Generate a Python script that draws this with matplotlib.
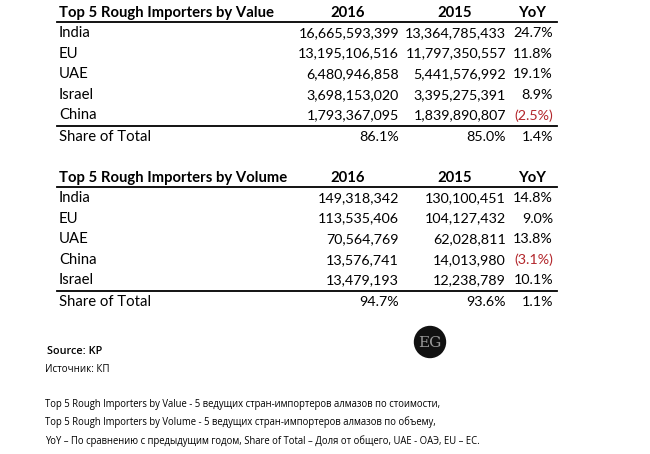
import matplotlib
matplotlib.use("Agg")
import matplotlib.pyplot as plt
from matplotlib.patches import Circle

# ---- data ----
value_title = "Top 5 Rough Importers by Value"
value_countries = ["India", "EU", "UAE", "Israel", "China"]
value_2016 = [16665593399, 13195106516, 6480946858, 3698153020, 1793367095]
value_2015 = [13364785433, 11797350557, 5441576992, 3395275391, 1839890807]
value_yoy = [24.7, 11.8, 19.1, 8.9, -2.5]
value_share = [86.1, 85.0, 1.4]

volume_title = "Top 5 Rough Importers by Volume"
volume_countries = ["India", "EU", "UAE", "China", "Israel"]
volume_2016 = [149318342, 113535406, 70564769, 13576741, 13479193]
volume_2015 = [130100451, 104127432, 62028811, 14013980, 12238789]
volume_yoy = [14.8, 9.0, 13.8, -3.1, 10.1]
volume_share = [94.7, 93.6, 1.1]

col_headers = ["2016", "2015", "YoY"]
share_label = "Share of Total"
source_lines = ["Source: KP", "Источник: КП"]
notes = [
    "Top 5 Rough Importers by Value - 5 ведущих стран-импортеров алмазов по стоимости,",
    "Top 5 Rough Importers by Volume - 5 ведущих стран-импортеров алмазов по объему,",
    "YoY \u2013 По сравнению с предыдущим годом, Share of Total \u2013 Доля от общего, UAE - ОАЭ, EU \u2013 ЕС.",
]
logo_text = "EG"

W, H = 650, 454
fig = plt.figure(figsize=(W / 100, H / 100), dpi=100)
ax = fig.add_axes([0, 0, 1, 1])
ax.set_xlim(0, W)
ax.set_ylim(H, 0)
ax.axis("off")

FAM = ["Lato", "DejaVu Sans"]
FS = 10.7
FSN = 10.3
label_x = 59
col_right = [399, 506, 553]
col_center = [348, 455, 532]
line_x0, line_x1 = 57, 557
row_h = 20.6
RED = "#b3262b"


def fmt_pct(v):
    return f"({abs(v):.1f}%)" if v < 0 else f"{v:.1f}%"


def draw_table(y0, title, countries, v16, v15, yoy, share):
    ax.text(label_x, y0, title, fontsize=FS, fontweight="bold", family=FAM,
            va="center", ha="left")
    for j, h in enumerate(col_headers):
        ax.text(col_center[j], y0, h, fontsize=FS, fontweight="bold", family=FAM,
                va="center", ha="center")
    ax.plot([line_x0, line_x1], [y0 + 9, y0 + 9], color="black", lw=1.3)
    for i, c in enumerate(countries):
        y = y0 + 20 + i * row_h
        ax.text(label_x, y, c, fontsize=FS, family=FAM, va="center", ha="left")
        ax.text(col_right[0], y, f"{v16[i]:,}", fontsize=FSN, family=FAM, va="center", ha="right")
        ax.text(col_right[1], y, f"{v15[i]:,}", fontsize=FSN, family=FAM, va="center", ha="right")
        ax.text(col_right[2], y, fmt_pct(yoy[i]), fontsize=FSN, family=FAM, va="center", ha="right",
                color=RED if yoy[i] < 0 else "black")
    yl = y0 + 20 + (len(countries) - 1) * row_h + 10.5
    ax.plot([line_x0, line_x1], [yl, yl], color="black", lw=1.3)
    ys = yl + 11
    ax.text(label_x, ys, share_label, fontsize=FS, family=FAM, va="center", ha="left")
    for j, s in enumerate(share):
        ax.text(col_right[j], ys, f"{s:.1f}%", fontsize=FSN, family=FAM, va="center", ha="right")


draw_table(13, value_title, value_countries, value_2016, value_2015, value_yoy, value_share)
draw_table(178, volume_title, volume_countries, volume_2016, volume_2015, volume_yoy, volume_share)

# logo
ax.add_patch(Circle((430, 342), 15.5, color="#111111"))
ax.text(430, 343, logo_text, fontsize=11, family=["DejaVu Serif"], color="#9a9a9a",
        ha="center", va="center")

NF = ["Open Sans", "DejaVu Sans"]
ax.text(47, 352, source_lines[0], fontsize=7.8, family=NF,
        fontweight="semibold", va="center", ha="left")
ax.text(45, 369, source_lines[1], fontsize=7.0, family=NF,
        va="center", ha="left")
for k, n in enumerate(notes):
    ax.text(45, 404 + k * 18.5, n, fontsize=6.85, family=NF,
            va="center", ha="left")

fig.savefig("out.png", dpi=100, facecolor="white")
